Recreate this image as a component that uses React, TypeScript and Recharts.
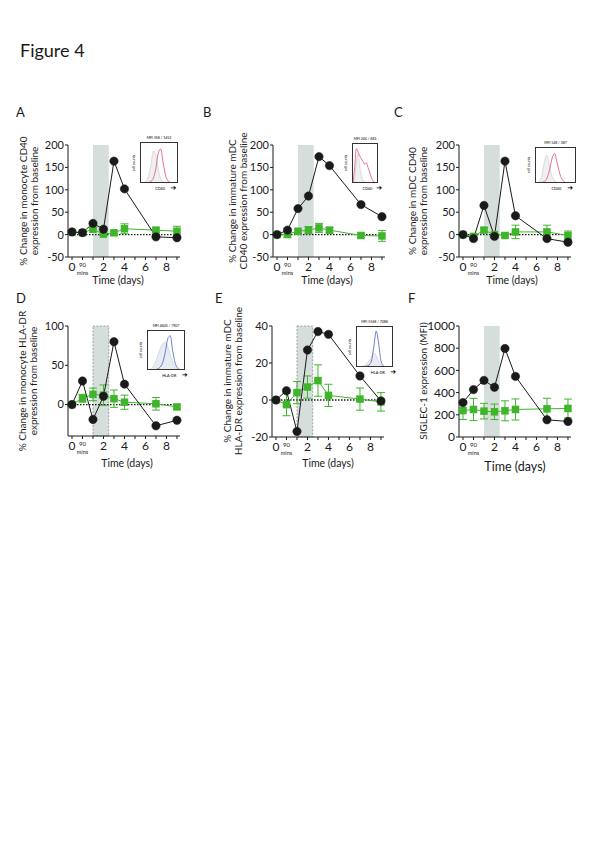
import React from "react";
import {
  LineChart, Line, XAxis, YAxis, ErrorBar, ReferenceArea, ReferenceLine,
  AreaChart, Area,
} from "recharts";

// time points: -1 = baseline ("0"), 0 = 90 mins, then days
const days = [-1, 0, 1, 2, 3, 4, 7, 9];

const aBlack = [6, 4.5, 25, 12, 164, 102, -5, -7];
const aGreen = [5, 4, 12, 1, 4, 13, 10, 7.5];
const aErr = [2, 2, 3, 3, 3, 11, 5, 11];

const bBlack = [0, 10, 58, 86, 174, 154, 67, 40];
const bGreen = [0, 1, 7.5, 10, 15, 10, -2, -3];
const bErr = [0, 8, 5, 8, 10, 6, 5, 12];

const cBlack = [0, -9, 65, -4, 164, 42, -9, -17];
const cGreen = [0, -4, 10, 0, -2, 6, 6, -2];
const cErr = [0, 3, 5, 3, 5, 15, 15, 10];

const dBlack = [0, 30, -19, 10.5, 80, 26, -27, -20];
const dGreen = [0, 8, 13, 12, 7.5, 3, 1, -3];
const dErr = [0, 5, 8, 13, 11, 9, 8, 3];

const eBlack = [0, 5, -17, 27, 37, 35.5, 13, -0.5];
const eGreen = [0, -2.5, 4, 7, 10.5, 2.5, 0.5, -1];
const eErr = [0, 6, 6, 6, 8.5, 6, 6, 5];

const fBlack = [310, 427, 510, 448, 797, 546, 155, 140];
const fGreen = [238, 248, 233, 227, 236, 248, 254, 257];
const fErr = [80, 100, 70, 70, 90, 95, 95, 85];

const xTicks = [-1, 0, 1, 2, 3, 4, 5, 6, 7, 8, 9];
const ticksCD40 = [-50, 0, 50, 100, 150, 200];
const ticksD = [0, 50, 100];
const ticksE = [-20, 0, 20, 40];
const ticksF = [0, 200, 400, 600, 800, 1000];

// inset histograms
const bins = [0, 1, 2, 3, 4, 5, 6, 7, 8, 9, 10, 11, 12, 13, 14, 15];
const insAGrey = [0, 1, 4, 15, 45, 80, 70, 35, 10, 3, 1, 0, 0, 0, 0, 0];
const insARed = [0, 0, 0, 1, 4, 12, 35, 75, 85, 50, 18, 5, 1, 0, 0, 0];
const insBGrey = [0, 10, 55, 75, 45, 20, 8, 3, 1, 0, 0, 0, 0, 0, 0, 0];
const insBRed = [0, 40, 88, 80, 70, 62, 55, 48, 52, 40, 28, 14, 5, 2, 0, 0];
const insCGrey = [0, 2, 15, 55, 80, 50, 20, 6, 2, 0, 0, 0, 0, 0, 0, 0];
const insCRed = [0, 0, 1, 4, 12, 35, 70, 85, 55, 25, 8, 2, 0, 0, 0, 0];
const insDGrey = [0, 2, 8, 20, 38, 55, 68, 72, 60, 40, 20, 8, 2, 0, 0, 0];
const insDBlue = [0, 0, 0, 1, 3, 8, 20, 45, 80, 88, 50, 18, 5, 1, 0, 0];
const insEGrey = [0, 0, 1, 3, 8, 15, 25, 35, 28, 14, 5, 1, 0, 0, 0, 0];
const insEBlue = [0, 0, 0, 1, 2, 5, 15, 50, 90, 60, 15, 3, 0, 0, 0, 0];

const GREEN = "#3fb52b";
const BLACK = "#1a1a1a";
const SHADE = "#d6dedb";
const FONT = "Lato, sans-serif";

const rows = (b: number[], g: number[], e: number[]) =>
  days.map((d, i) => ({ day: d, black: b[i], green: g[i], err: e[i] }));

const Square = (props: any) => {
  const { cx, cy, index } = props;
  if (cx == null || cy == null) return <g key={index} />;
  return <rect key={index} x={cx - 3.75} y={cy - 3.75} width={7.5} height={7.5} fill={GREEN} />;
};

const XTick = (props: any) => {
  const { x, y, payload } = props;
  const v = payload.value;
  if (v === -1)
    return <text x={x} y={y + 9} textAnchor="middle" fontSize={12} fontFamily={FONT} fill={BLACK}>0</text>;
  if (v === 0)
    return (
      <g>
        <text x={x} y={y + 5} textAnchor="middle" fontSize={6} fontFamily={FONT} fill={BLACK}>90</text>
        <text x={x} y={y + 13} textAnchor="middle" fontSize={5.5} fontFamily={FONT} fill={BLACK}>mins</text>
      </g>
    );
  if (v > 0 && v % 2 === 0)
    return <text x={x} y={y + 9} textAnchor="middle" fontSize={12} fontFamily={FONT} fill={BLACK}>{v}</text>;
  return <g />;
};

type PanelProps = {
  left: number; top: number; h: number;
  data: any[]; domain: [number, number]; ticks: number[];
  dashed?: boolean; zero?: boolean; yFont?: number;
};

function Panel({ left, top, h, data, domain, ticks, dashed, zero = true, yFont = 11 }: PanelProps) {
  const w = 112;
  return (
    <div style={{ position: "absolute", left: left - 40, top: top - 10 }}>
      <LineChart width={w + 50} height={h + 40} data={data} margin={{ top: 10, right: 10, left: 0, bottom: 0 }}>
        <ReferenceArea
          x1={1} x2={2.5} y1={domain[0]} y2={domain[1]}
          fill={SHADE} fillOpacity={1}
          stroke={dashed ? "#8a8f8d" : "none"} strokeDasharray="2 1.5" strokeWidth={0.8}
        />
        <XAxis
          dataKey="day" type="number" domain={[-1.38, 9.29]} ticks={xTicks}
          tick={<XTick />} tickSize={3} height={30} interval={0}
          axisLine={{ stroke: BLACK, strokeWidth: 1 }} tickLine={{ stroke: BLACK }}
        />
        <YAxis
          type="number" domain={domain} ticks={ticks} width={40} interval={0}
          tick={{ fontSize: yFont, fill: BLACK, fontFamily: FONT }} tickSize={3} tickMargin={1}
          axisLine={{ stroke: BLACK, strokeWidth: 1 }} tickLine={{ stroke: BLACK }}
        />
        {zero && <ReferenceLine y={0} stroke={BLACK} strokeWidth={1.3} strokeDasharray="1.5 1.5" />}
        <Line
          dataKey="green" stroke={GREEN} strokeWidth={1} dot={Square}
          isAnimationActive={false} type="linear"
        >
          <ErrorBar dataKey="err" width={4} stroke={GREEN} strokeWidth={1} direction="y" />
        </Line>
        <Line
          dataKey="black" stroke={BLACK} strokeWidth={1}
          dot={{ r: 4.2, fill: BLACK, stroke: BLACK, strokeWidth: 0.5 }}
          isAnimationActive={false} type="linear"
        />
      </LineChart>
    </div>
  );
}

type InsetProps = {
  left: number; top: number; w: number; h: number;
  grey: number[]; col: number[]; color: string; title: string; marker: string; greyFill?: string;
};

function Inset({ left, top, w, h, grey, col, color, title, marker, greyFill = "#eef0f1" }: InsetProps) {
  const data = bins.map((b, i) => ({ bin: b, grey: grey[i], col: col[i] }));
  return (
    <div style={{ position: "absolute", left, top }}>
      <div style={{ position: "absolute", left: 0, top: -6, width: w, textAlign: "center", fontSize: 3.5, fontFamily: FONT, whiteSpace: "nowrap" }}>{title}</div>
      <div style={{ position: "absolute", left: -6, top: h / 2, transform: "translate(-50%,-50%) rotate(-90deg)", fontSize: 3.5, fontFamily: FONT, whiteSpace: "nowrap" }}>cell counts</div>
      <div style={{ width: w, height: h, border: "0.6px solid #333", boxSizing: "border-box", overflow: "hidden" }}>
        <AreaChart width={w - 1} height={h - 1} data={data} margin={{ top: 2, right: 0, left: 0, bottom: 0 }}>
          <XAxis dataKey="bin" hide />
          <YAxis hide domain={[0, 95]} />
          <Area dataKey="grey" type="monotone" stroke="#c4c9cc" strokeWidth={0.6} fill={greyFill} fillOpacity={1} isAnimationActive={false} />
          <Area dataKey="col" type="monotone" stroke={color} strokeWidth={0.8} fill="none" fillOpacity={0} isAnimationActive={false} />
        </AreaChart>
      </div>
      <div style={{ position: "absolute", left: w * 0.4, top: h + 1, fontSize: 3.8, fontFamily: FONT, whiteSpace: "nowrap" }}>
        {marker} <span style={{ fontSize: 7, fontFamily: "DejaVu Sans", marginLeft: w * 0.12 }}>➔</span>
      </div>
    </div>
  );
}

function YLabel({ cx, cy, lines, size = 10 }: { cx: number; cy: number; lines: string[]; size?: number }) {
  return (
    <div
      style={{
        position: "absolute", left: cx, top: cy, transform: "translate(-50%,-50%) rotate(-90deg)",
        fontSize: size, lineHeight: `${size + 0.5}px`, fontFamily: FONT, textAlign: "center", whiteSpace: "nowrap", color: BLACK,
      }}
    >
      {lines.map((l) => <div key={l}>{l}</div>)}
    </div>
  );
}

function Txt({ x, y, children, size = 10, center = true }: any) {
  return (
    <div
      style={{
        position: "absolute", left: x, top: y, transform: center ? "translate(-50%,-50%)" : "translate(0,-50%)",
        fontSize: size, fontFamily: FONT, whiteSpace: "nowrap", color: BLACK,
      }}
    >
      {children}
    </div>
  );
}

export default function App() {
  return (
    <div style={{ position: "absolute", left: 0, top: 0, width: 596, height: 842, background: "#fff", overflow: "hidden" }}>
      <Txt x={20} y={50} size={18} center={false}>Figure 4</Txt>

      <Txt x={16} y={112} size={13} center={false}>A</Txt>
      <Txt x={203} y={112} size={13} center={false}>B</Txt>
      <Txt x={394} y={112} size={13} center={false}>C</Txt>
      <Txt x={16} y={298} size={13} center={false}>D</Txt>
      <Txt x={215} y={298} size={13} center={false}>E</Txt>
      <Txt x={408} y={298} size={13} center={false}>F</Txt>

      <Panel left={68} top={145} h={112} data={rows(aBlack, aGreen, aErr)} domain={[-50, 200]} ticks={ticksCD40} />
      <Panel left={273} top={145} h={112} data={rows(bBlack, bGreen, bErr)} domain={[-50, 200]} ticks={ticksCD40} />
      <Panel left={459} top={145} h={112} data={rows(cBlack, cGreen, cErr)} domain={[-50, 200]} ticks={ticksCD40} />
      <Panel left={68} top={326} h={110} data={rows(dBlack, dGreen, dErr)} domain={[-40, 100]} ticks={ticksD} dashed />
      <Panel left={272} top={326} h={111} data={rows(eBlack, eGreen, eErr)} domain={[-20, 40]} ticks={ticksE} dashed />
      <Panel left={459} top={326} h={111} data={rows(fBlack, fGreen, fErr)} domain={[0, 1000]} ticks={ticksF} zero={false} yFont={12} />

      <YLabel cx={28} cy={201} lines={["% Change in monocyte CD40", "expression from baseline"]} />
      <YLabel cx={237} cy={201} lines={["% Change in immature mDC", "CD40 expression from baseline"]} />
      <YLabel cx={417} cy={201} lines={["% Change in mDC CD40", "expression from baseline"]} />
      <YLabel cx={27} cy={381} lines={["% Change in monocyte HLA-DR", "expression from baseline"]} />
      <YLabel cx={232} cy={381} lines={["% Change in immature mDC", "HLA-DR expression from baseline"]} />
      <YLabel cx={423} cy={381} lines={["SIGLEC-1 expression (MFI)"]} />

      <Txt x={118} y={280} size={10.5}>Time (days)</Txt>
      <Txt x={327} y={280} size={10.5}>Time (days)</Txt>
      <Txt x={512} y={280} size={10.5}>Time (days)</Txt>
      <Txt x={127} y={463} size={10.5}>Time (days)</Txt>
      <Txt x={328} y={463} size={10.5}>Time (days)</Txt>
      <Txt x={515} y={466} size={12.5}>Time (days)</Txt>

      <Inset left={140} top={142} w={38} h={41} grey={insAGrey} col={insARed} color="#e2506d" title="MFI 358 / 1453" marker="CD40" />
      <Inset left={352} top={143} w={26} h={40} grey={insBGrey} col={insBRed} color="#e2506d" title="MFI 244 / 683" marker="CD40" />
      <Inset left={535} top={147} w={41} h={36} grey={insCGrey} col={insCRed} color="#e2506d" title="MFI 148 / 387" marker="CD40" />
      <Inset left={147} top={330} w={38} h={40} grey={insDGrey} col={insDBlue} color="#4c61c6" title="MFI 4605 / 7907" marker="HLA-DR" greyFill="#e6ecf2" />
      <Inset left={356} top={326} w={37} h={41} grey={insEGrey} col={insEBlue} color="#4c61c6" title="MFI 5168 / 7088" marker="HLA-DR" greyFill="#e6ecf2" />
    </div>
  );
}
